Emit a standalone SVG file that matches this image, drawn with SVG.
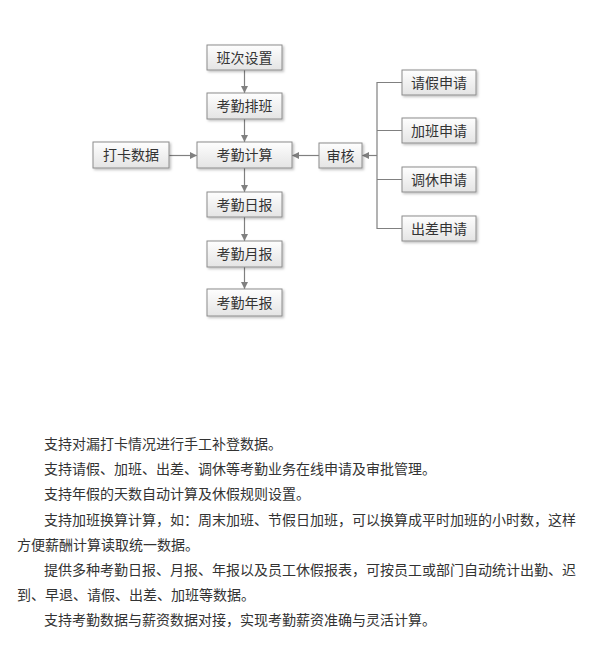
<svg xmlns="http://www.w3.org/2000/svg" width="607" height="661" viewBox="0 0 607 661">
<defs>
<linearGradient id="g" x1="0" y1="0" x2="0" y2="1">
<stop offset="0" stop-color="#fefefe"/>
<stop offset="1" stop-color="#e4e4e4"/>
</linearGradient>
<filter id="sh" x="-10%" y="-20%" width="130%" height="160%">
<feDropShadow dx="1.5" dy="1.5" stdDeviation="1" flood-color="#000" flood-opacity="0.25"/>
</filter>
<marker id="ar" viewBox="0 0 8 8" refX="8" refY="4" markerWidth="7" markerHeight="7" markerUnits="userSpaceOnUse" orient="auto">
<path d="M0,0 L8,4 L0,8 Z" fill="#808080"/>
</marker>
<style>
.box{fill:url(#g);stroke:#8c8c8c;stroke-width:1;filter:url(#sh)}
.lbl{font-family:"Microsoft YaHei","Noto Sans CJK SC",sans-serif;font-size:14px;fill:#333;text-anchor:middle}
.ln{stroke:#808080;stroke-width:1.2;fill:none}
.p{font-family:"Microsoft YaHei","Noto Sans CJK SC",sans-serif;font-size:14px;fill:#333}
</style>
</defs>
<rect width="607" height="661" fill="#fff"/>
<g id="connectors">
<line class="ln" x1="244.5" y1="70" x2="244.5" y2="93" marker-end="url(#ar)"/>
<line class="ln" x1="244.5" y1="119" x2="244.5" y2="142" marker-end="url(#ar)"/>
<line class="ln" x1="244.5" y1="168" x2="244.5" y2="192" marker-end="url(#ar)"/>
<line class="ln" x1="244.5" y1="217" x2="244.5" y2="241" marker-end="url(#ar)"/>
<line class="ln" x1="244.5" y1="267" x2="244.5" y2="289" marker-end="url(#ar)"/>
<line class="ln" x1="169" y1="155.5" x2="197" y2="155.5" marker-end="url(#ar)"/>
<line class="ln" x1="319" y1="155.5" x2="292" y2="155.5" marker-end="url(#ar)"/>
<line class="ln" x1="377" y1="155.5" x2="362" y2="155.5" marker-end="url(#ar)"/>
<path class="ln" d="M402,82.5 H377 V228.5 H402 M377,130.5 H402 M377,179.5 H402"/>
</g>
<g id="n-banci"><rect class="box" x="207" y="45" width="75" height="25"/><text class="lbl" x="244.5" y="62.5">班次设置</text></g>
<g id="n-paiban"><rect class="box" x="207" y="93" width="75" height="26"/><text class="lbl" x="244.5" y="111">考勤排班</text></g>
<g id="n-jisuan"><rect class="box" x="197" y="142" width="95" height="26"/><text class="lbl" x="244.5" y="160">考勤计算</text></g>
<g id="n-daka"><rect class="box" x="93" y="142" width="76" height="26"/><text class="lbl" x="131" y="160">打卡数据</text></g>
<g id="n-shenhe"><rect class="box" x="319" y="143" width="43" height="25"/><text class="lbl" x="340.5" y="160.5">审核</text></g>
<g id="n-ribao"><rect class="box" x="207" y="192" width="75" height="25"/><text class="lbl" x="244.5" y="209.5">考勤日报</text></g>
<g id="n-yuebao"><rect class="box" x="207" y="241" width="75" height="26"/><text class="lbl" x="244.5" y="259">考勤月报</text></g>
<g id="n-nianbao"><rect class="box" x="207" y="289" width="75" height="27"/><text class="lbl" x="244.5" y="307.5">考勤年报</text></g>
<g id="n-qingjia"><rect class="box" x="402" y="70" width="74" height="25"/><text class="lbl" x="439" y="87.5">请假申请</text></g>
<g id="n-jiaban"><rect class="box" x="402" y="118" width="74" height="25"/><text class="lbl" x="439" y="135.5">加班申请</text></g>
<g id="n-tiaoxiu"><rect class="box" x="402" y="167" width="74" height="25"/><text class="lbl" x="439" y="184.5">调休申请</text></g>
<g id="n-chuchai"><rect class="box" x="402" y="216" width="74" height="25"/><text class="lbl" x="439" y="233.5">出差申请</text></g>
<g id="text">
<text class="p" x="44" y="449">支持对漏打卡情况进行手工补登数据。</text>
<text class="p" x="44" y="474">支持请假、加班、出差、调休等考勤业务在线申请及审批管理。</text>
<text class="p" x="44" y="499">支持年假的天数自动计算及休假规则设置。</text>
<text class="p" x="44" y="525">支持加班换算计算，如：周末加班、节假日加班，可以换算成平时加班的小时数，这样</text>
<text class="p" x="17" y="550">方便薪酬计算读取统一数据。</text>
<text class="p" x="44" y="575">提供多种考勤日报、月报、年报以及员工休假报表，可按员工或部门自动统计出勤、迟</text>
<text class="p" x="17" y="600">到、早退、请假、出差、加班等数据。</text>
<text class="p" x="44" y="625">支持考勤数据与薪资数据对接，实现考勤薪资准确与灵活计算。</text>
</g>
</svg>
